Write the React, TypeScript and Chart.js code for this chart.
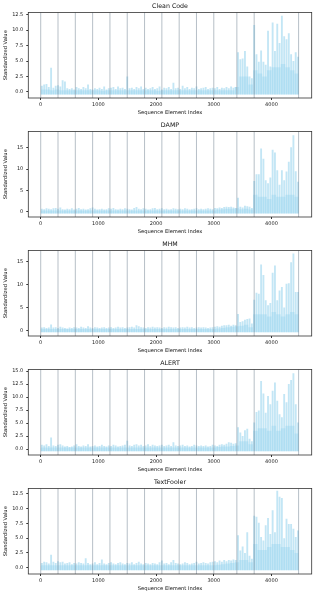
import React, { useEffect, useRef } from 'react';
import { Chart, registerables } from 'chart.js';

Chart.register(...registerables);
Chart.defaults.font.family = '"DejaVu Sans", sans-serif';

const BIN = 40;
const BODY_BIN = 80;
const END_INDEX = 4470;
const FILL_BASE = -0.42;

const titles = ['Clean Code', 'DAMP', 'MHM', 'ALERT', 'TextFooler'];
const boundaries = [0, 300, 600, 900, 1200, 1500, 1800, 2100, 2400, 2700, 3000, 3400, 3700, 4470];
const xTicks = [0, 1000, 2000, 3000, 4000];
const xLimits = [-215, 4697];

// bin maxima (40-element bins)
const cleanCodePeaks = [
  1.0, 1.2, 1.3, 0.8, 3.9, 0.7, 1.0, 1.1, 0.9, 1.9,
  1.7, 0.6, 0.5, 0.6, 0.4, 0.8, 0.6, 0.5, 0.8, 0.6,
  1.2, 0.5, 0.4, 0.6, 0.5, 0.7, 0.5, 0.9, 0.4, 0.6,
  0.7, 0.8, 0.5, 0.9, 0.6, 0.7, 0.5, 2.5, 0.6, 0.7,
  0.5, 0.8, 0.6, 0.9, 0.5, 0.7, 0.5, 0.6, 0.8, 0.5,
  0.6, 0.9, 0.4, 0.7, 0.6, 0.8, 0.5, 1.5, 0.6, 0.7,
  0.5, 1.0, 0.6, 0.8, 0.5, 0.7, 0.6, 0.9, 0.5, 0.6,
  0.7, 0.8, 0.5, 0.6, 0.7, 0.6, 0.8, 0.5, 0.7, 0.6,
  0.8, 0.6, 0.9, 0.7, 0.8, 6.4, 5.3, 5.4, 6.6, 4.1,
  2.5, 2.2, 10.8, 6.1, 4.9, 6.7, 4.9, 4.4, 9.9, 4.1,
  11.2, 6.6, 11.0, 7.9, 12.3, 9.0, 8.5, 9.5, 6.1, 5.0,
  6.4, 5.7,
];
const dampPeaks = [
  0.7, 0.6, 0.8, 0.7, 0.6, 0.8, 0.9, 0.7, 1.0, 0.6,
  0.5, 0.7, 0.6, 0.8, 0.5, 0.7, 0.9, 0.6, 0.7, 0.5,
  0.6, 0.8, 1.0, 0.7, 0.5, 0.6, 0.7, 0.5, 0.6, 0.8,
  0.7, 0.9, 0.6, 0.5, 0.7, 0.6, 0.8, 0.7, 0.6, 0.5,
  0.9, 1.1, 0.7, 0.6, 0.8, 0.7, 0.5, 0.6, 0.8, 0.9,
  0.6, 0.7, 0.8, 0.6, 0.7, 0.5, 0.6, 0.8, 0.7, 0.6,
  0.7, 0.6, 0.8, 0.7, 0.5, 0.6, 0.7, 0.8, 0.6, 0.7,
  0.6, 0.7, 0.8, 0.7, 0.6, 0.9, 0.8, 1.0, 0.9, 1.1,
  1.2, 1.1, 1.2, 1.0, 0.9, 3.3, 1.2, 1.0, 1.4, 1.3,
  1.2, 0.9, 7.2, 8.8, 8.8, 14.8, 12.4, 7.4, 6.7, 8.0,
  14.5, 13.9, 9.7, 6.3, 9.7, 7.4, 9.4, 11.7, 15.1, 17.9,
  9.5, 7.0,
];
const mhmPeaks = [
  0.6, 0.7, 0.5, 0.6, 1.3, 0.6, 0.7, 0.5, 0.8, 0.6,
  0.5, 0.4, 0.6, 0.5, 0.7, 0.6, 0.5, 0.8, 0.6, 0.5,
  0.9, 0.6, 0.5, 0.7, 0.6, 0.5, 0.6, 0.7, 0.5, 0.6,
  0.7, 0.5, 0.6, 0.8, 0.6, 0.7, 0.5, 0.6, 0.7, 0.8,
  0.6, 1.1, 0.9, 0.7, 0.6, 0.5, 0.7, 0.6, 0.8, 0.6,
  0.7, 0.6, 0.5, 0.7, 0.6, 0.8, 0.7, 0.6, 0.7, 0.5,
  0.6, 0.7, 0.6, 0.8, 0.6, 0.7, 0.5, 0.6, 0.7, 0.6,
  0.7, 0.6, 0.5, 0.6, 0.7, 0.8, 0.9, 0.8, 1.0, 1.1,
  1.1, 1.2, 1.0, 1.2, 1.1, 3.6, 1.8, 2.0, 2.3, 2.5,
  2.6, 1.5, 6.7, 8.2, 8.0, 14.4, 12.1, 6.6, 5.5, 6.0,
  12.6, 14.2, 6.6, 8.7, 9.5, 5.0, 10.2, 10.3, 14.9, 16.8,
  8.4, 8.4,
];
const alertPeaks = [
  0.8, 0.7, 0.9, 0.6, 2.2, 0.7, 0.6, 0.8, 0.9, 0.7,
  0.5, 0.6, 0.4, 0.5, 0.7, 0.9, 0.6, 0.5, 0.7, 0.6,
  0.9, 0.5, 0.6, 0.7, 0.5, 0.6, 0.8, 0.6, 0.5, 0.7,
  0.6, 0.8, 0.7, 0.5, 0.6, 0.7, 0.8, 1.6, 0.7, 0.6,
  0.8, 0.9, 0.7, 0.8, 0.6, 0.7, 0.9, 0.6, 0.8, 0.7,
  0.6, 0.7, 0.8, 0.6, 0.7, 0.8, 0.6, 1.3, 0.7, 0.6,
  0.7, 0.8, 0.6, 0.7, 0.5, 0.6, 0.8, 0.7, 0.6, 0.7,
  0.6, 0.7, 0.5, 0.6, 0.8, 0.7, 0.6, 0.8, 0.9, 0.8,
  1.0, 1.3, 1.2, 1.0, 1.1, 4.2, 3.2, 2.5, 3.6, 3.9,
  2.0, 1.5, 5.1, 7.1, 7.4, 13.1, 10.7, 7.0, 10.2, 8.6,
  11.2, 12.8, 9.3, 6.7, 6.1, 10.6, 9.0, 12.5, 13.3, 14.6,
  8.6, 5.1,
];
const textFoolerPeaks = [
  0.8, 1.0, 0.9, 0.7, 2.2, 1.0, 0.8, 1.1, 0.9, 1.0,
  0.7, 0.8, 0.9, 0.6, 0.8, 0.7, 0.9, 0.8, 0.7, 1.6,
  0.8, 0.6, 0.7, 0.9, 0.6, 0.8, 1.4, 0.7, 0.6, 0.8,
  0.9, 0.7, 0.6, 0.8, 0.9, 0.7, 0.6, 0.8, 0.7, 0.9,
  0.6, 0.8, 1.0, 0.7, 0.6, 0.8, 0.7, 0.6, 0.8, 0.7,
  0.6, 0.9, 1.2, 0.7, 0.8, 0.6, 0.9, 1.3, 0.8, 0.7,
  0.6, 0.7, 0.9, 0.8, 0.6, 0.7, 0.8, 1.0, 0.7, 0.8,
  0.9, 0.8, 0.7, 0.9, 1.0, 1.1, 0.9, 1.2, 1.0, 1.3,
  1.1, 1.3, 1.2, 1.4, 1.3, 5.5, 2.9, 3.6, 2.5, 6.0,
  2.0, 1.5, 8.8, 8.6, 7.6, 5.2, 4.6, 7.2, 8.4, 5.7,
  9.7, 6.0, 13.0, 12.0, 11.8, 5.0, 8.3, 7.4, 7.4, 6.6,
  5.2, 6.3,
];

// typical (dense) level per 80-element bin
const cleanCodeBody = [
  0.4, 0.4, 0.3, 0.4, 0.3, 0.3, 0.3, 0.3, 0.3, 0.3,
  0.3, 0.3, 0.3, 0.2, 0.3, 0.3, 0.3, 0.3, 0.3, 0.3,
  0.3, 0.3, 0.3, 0.3, 0.3, 0.2, 0.3, 0.3, 0.3, 0.3,
  0.3, 0.3, 0.3, 0.3, 0.3, 0.3, 0.3, 0.3, 0.3, 0.3,
  0.3, 0.3, 0.8, 2.5, 2.5, 1.2, 3.5, 3.0, 2.5, 3.5,
  4.0, 4.0, 4.5, 4.0, 3.5, 3.0,
];
const dampBody = [
  0.3, 0.3, 0.3, 0.3, 0.3, 0.3, 0.3, 0.3, 0.3, 0.3,
  0.3, 0.3, 0.3, 0.3, 0.3, 0.3, 0.3, 0.3, 0.3, 0.3,
  0.3, 0.3, 0.3, 0.3, 0.3, 0.3, 0.3, 0.3, 0.3, 0.3,
  0.3, 0.3, 0.3, 0.3, 0.3, 0.3, 0.3, 0.3, 0.5, 0.6,
  0.7, 0.7, 0.8, 0.6, 0.7, 0.5, 4.0, 3.5, 3.5, 3.0,
  4.0, 3.5, 3.5, 4.0, 4.0, 3.5,
];
const mhmBody = [
  0.3, 0.3, 0.3, 0.3, 0.3, 0.3, 0.3, 0.3, 0.3, 0.3,
  0.3, 0.3, 0.3, 0.3, 0.3, 0.3, 0.3, 0.3, 0.3, 0.3,
  0.3, 0.3, 0.3, 0.3, 0.3, 0.3, 0.3, 0.3, 0.3, 0.3,
  0.3, 0.3, 0.3, 0.3, 0.3, 0.3, 0.3, 0.3, 0.4, 0.5,
  0.7, 0.8, 0.9, 1.0, 1.2, 0.7, 3.5, 3.5, 3.5, 3.0,
  4.0, 3.5, 3.0, 3.5, 4.0, 3.5,
];
const alertBody = [
  0.3, 0.3, 0.3, 0.3, 0.3, 0.3, 0.3, 0.3, 0.3, 0.3,
  0.3, 0.3, 0.3, 0.3, 0.3, 0.3, 0.3, 0.3, 0.3, 0.3,
  0.3, 0.3, 0.3, 0.3, 0.3, 0.3, 0.3, 0.3, 0.3, 0.3,
  0.3, 0.3, 0.3, 0.3, 0.3, 0.3, 0.3, 0.3, 0.4, 0.5,
  0.5, 0.6, 0.7, 1.5, 1.5, 0.9, 3.5, 4.0, 4.0, 3.5,
  4.5, 3.5, 4.0, 4.5, 4.5, 3.0,
];
const textFoolerBody = [
  0.4, 0.4, 0.4, 0.4, 0.4, 0.4, 0.4, 0.4, 0.4, 0.4,
  0.4, 0.4, 0.4, 0.4, 0.4, 0.4, 0.4, 0.4, 0.4, 0.4,
  0.4, 0.4, 0.4, 0.4, 0.4, 0.4, 0.4, 0.4, 0.4, 0.4,
  0.4, 0.4, 0.4, 0.4, 0.4, 0.4, 0.4, 0.4, 0.5, 0.6,
  0.7, 0.8, 0.9, 1.3, 1.3, 0.9, 4.0, 3.0, 3.0, 3.5,
  4.0, 4.0, 3.5, 3.5, 3.0, 2.5,
];

const yTicksQuarter = [0, 2.5, 5, 7.5, 10, 12.5];
const yTicksFive = [0, 5, 10, 15];
const yTicksAlert = [0, 2.5, 5, 7.5, 10, 12.5, 15];

const yLimits = [
  [-0.97, 12.83],
  [-1.23, 18.8],
  [-1.24, 17.47],
  [-1.15, 15.3],
  [-1.07, 13.4],
];
const peakSeries = [cleanCodePeaks, dampPeaks, mhmPeaks, alertPeaks, textFoolerPeaks];
const bodySeries = [cleanCodeBody, dampBody, mhmBody, alertBody, textFoolerBody];
const yTickSets = [yTicksQuarter, yTicksFive, yTicksFive, yTicksAlert, yTicksQuarter];
const yDecimals = [1, 0, 0, 1, 1];

const W = 316;
const H = 119;
const FONT = '"DejaVu Sans", sans-serif';

function toStepPoints(arr: number[], bin: number) {
  const pts = arr.map((v, i) => ({ x: i * bin, y: v }));
  pts.push({ x: END_INDEX, y: arr[arr.length - 1] });
  return pts;
}

function toBarPoints(arr: number[], bin: number) {
  return arr.map((v, i) => ({ x: i * bin + bin / 2, y: v }));
}

function Panel({ idx }: { idx: number }) {
  const ref = useRef<HTMLCanvasElement | null>(null);
  useEffect(() => {
    const canvas = ref.current;
    if (!canvas) return;
    const title = titles[idx];
    const decor = {
      id: 'decor',
      afterDatasetsDraw(chart: any) {
        const { ctx, chartArea, scales } = chart;
        const { left, right, top, bottom } = chartArea;
        ctx.save();
        ctx.strokeStyle = 'rgba(112,128,144,0.5)';
        ctx.lineWidth = 1;
        boundaries.forEach((b) => {
          const px = scales.x.getPixelForValue(b);
          ctx.beginPath();
          ctx.moveTo(px, top);
          ctx.lineTo(px, bottom);
          ctx.stroke();
        });
        ctx.strokeStyle = '#333';
        ctx.lineWidth = 0.8;
        ctx.strokeRect(left, top, right - left, bottom - top);
        ctx.fillStyle = '#111';
        ctx.font = `6.3px ${FONT}`;
        ctx.textAlign = 'center';
        ctx.textBaseline = 'middle';
        ctx.fillText(title, (left + right) / 2, 6.8);
        ctx.restore();
      },
    };
    const chart = new Chart(canvas, {
      type: 'line',
      data: {
        datasets: [
          {
            type: 'bar',
            label: title,
            data: toBarPoints(peakSeries[idx], BIN),
            base: FILL_BASE,
            barPercentage: 0.8,
            categoryPercentage: 1,
            borderWidth: 0,
            backgroundColor: 'rgba(135,206,235,0.5)',
          },
          {
            type: 'line',
            label: title + ' body',
            data: toStepPoints(bodySeries[idx], BODY_BIN),
            stepped: true,
            pointRadius: 0,
            borderWidth: 0,
            borderColor: 'rgba(0,0,0,0)',
            backgroundColor: 'rgba(135,206,235,0.32)',
            fill: { value: FILL_BASE },
          },
        ],
      },
      options: {
        animation: false,
        responsive: false,
        devicePixelRatio: 1,
        layout: { padding: { top: 12.5, right: 4.3, left: 0, bottom: 0 } },
        plugins: { legend: { display: false }, tooltip: { enabled: false }, title: { display: false } },
        events: [],
        scales: {
          x: {
            type: 'linear',
            offset: false,
            min: xLimits[0],
            max: xLimits[1],
            afterBuildTicks: (s: any) => {
              s.ticks = xTicks.map((v) => ({ value: v }));
            },
            afterFit: (s: any) => {
              s.height = 21;
            },
            grid: { offset: false, drawOnChartArea: false, drawTicks: true, tickLength: 2, tickColor: '#333' },
            border: { display: false },
            ticks: {
              font: { family: FONT, size: 5 },
              color: '#222',
              padding: 1.5,
              maxRotation: 0,
              autoSkip: false,
              callback: (v: any) => String(v),
            },
            title: {
              display: true,
              text: 'Sequence Element Index',
              font: { family: FONT, size: 5.2 },
              color: '#111',
              padding: { top: 0, bottom: 3.3 },
            },
          },
          y: {
            type: 'linear',
            min: yLimits[idx][0],
            max: yLimits[idx][1],
            afterBuildTicks: (s: any) => {
              s.ticks = yTickSets[idx].map((v) => ({ value: v }));
            },
            afterFit: (s: any) => {
              s.width = 28.3;
            },
            grid: { drawOnChartArea: false, drawTicks: true, tickLength: 2, tickColor: '#333' },
            border: { display: false },
            ticks: {
              font: { family: FONT, size: 5 },
              color: '#222',
              padding: 3,
              autoSkip: false,
              callback: (v: any) => Number(v).toFixed(yDecimals[idx]),
            },
            title: {
              display: true,
              text: 'Standardized Value',
              font: { family: FONT, size: 5.2 },
              color: '#111',
              padding: { top: 3, bottom: 0 },
            },
          },
        },
      },
      plugins: [decor],
    } as any);
    return () => chart.destroy();
  }, [idx]);
  return <canvas ref={ref} width={W} height={H} style={{ display: 'block', width: W, height: H }} />;
}

export default function App() {
  useEffect(() => {
    document.body.style.margin = '0';
    document.body.style.background = '#fff';
  }, []);
  return (
    <div style={{ width: W, background: '#fff' }}>
      {titles.map((_, i) => (
        <Panel key={i} idx={i} />
      ))}
    </div>
  );
}
